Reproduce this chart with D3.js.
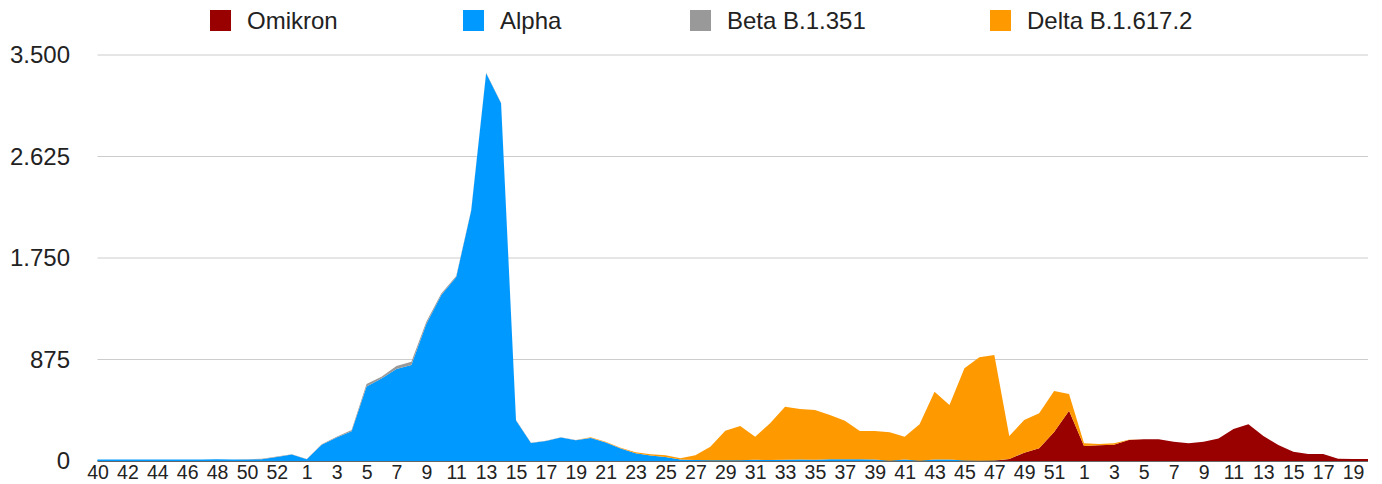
<!DOCTYPE html>
<html>
<head>
<meta charset="utf-8">
<script src="https://cdn.jsdelivr.net/npm/d3@7"></script>
<style>
  body { margin: 0; background: #fff; }
  .chart text { font-family: "Liberation Sans", Arial, sans-serif; fill: #222; }
</style>
</head>
<body>
<div class="chart"></div>
<script>
// calendar weeks: 2020 wk40-53, 2021 wk1-52, 2022 wk1-20
const weeks = [
  40, 41, 42, 43, 44, 45, 46, 47, 48, 49, 50, 51, 52, 53,
  1, 2, 3, 4, 5, 6, 7, 8, 9, 10, 11, 12, 13, 14, 15, 16, 17, 18, 19, 20,
  21, 22, 23, 24, 25, 26, 27, 28, 29, 30, 31, 32, 33, 34, 35, 36, 37, 38, 39, 40,
  41, 42, 43, 44, 45, 46, 47, 48, 49, 50, 51, 52,
  1, 2, 3, 4, 5, 6, 7, 8, 9, 10, 11, 12, 13, 14, 15, 16, 17, 18, 19, 20
];

const omikron = [
  0, 0, 0, 0, 0, 0, 0, 0, 0, 0, 0, 0, 0, 0,
  0, 0, 0, 0, 0, 0, 0, 0, 0, 0, 0, 0, 0, 0, 0, 0, 0, 0, 0, 0,
  0, 0, 0, 0, 0, 0, 0, 0, 0, 0, 0, 0, 0, 0, 0, 0, 0, 0, 0, 0,
  0, 0, 0, 0, 0, 0, 3, 17, 72, 109, 250, 434,
  129, 135, 141, 181, 187, 187, 167, 152, 167, 195, 276, 316, 216, 138, 80, 60, 60, 20, 17, 17
];

const alpha = [
  14, 14, 14, 12, 14, 12, 14, 14, 16, 14, 14, 16, 35, 55,
  15, 140, 203, 257, 642, 712, 793, 828, 1180, 1432, 1587, 2158, 3343, 3085, 350, 156, 173, 202, 179, 199,
  160, 108, 66, 47, 35, 12, 8, 6, 6, 6, 10, 8, 10, 14, 10, 15, 16, 16, 14, 3,
  14, 3, 12, 14, 4, 2, 2, 1, 0, 0, 0, 0,
  0, 0, 0, 0, 0, 0, 0, 0, 0, 0, 0, 0, 0, 0, 0, 0, 0, 0, 0, 0
];

const beta = [
  0, 0, 0, 0, 0, 0, 0, 0, 0, 0, 2, 3, 3, 3,
  2, 5, 7, 10, 22, 15, 26, 28, 21, 13, 8, 6, 5, 4, 3, 2, 2, 2, 2, 2,
  1, 1, 1, 1, 0, 0, 0, 0, 0, 0, 0, 0, 0, 0, 0, 0, 0, 0, 0, 0,
  0, 0, 0, 0, 0, 0, 0, 0, 0, 0, 0, 0,
  0, 0, 0, 0, 0, 0, 0, 0, 0, 0, 0, 0, 0, 0, 0, 0, 0, 0, 0, 0
];

const delta = [
  0, 0, 0, 0, 0, 0, 0, 0, 0, 0, 0, 0, 0, 0,
  0, 0, 0, 0, 0, 0, 0, 0, 0, 0, 0, 0, 0, 0, 0, 0, 0, 0, 0, 3,
  5, 6, 8, 10, 14, 11, 41, 117, 255, 296, 200, 317, 458, 434, 430, 382, 331, 243, 245, 244,
  196, 313, 586, 469, 795, 892, 909, 198, 281, 302, 353, 144,
  23, 12, 11, 3, 1, 0, 0, 0, 0, 0, 0, 0, 0, 0, 0, 0, 0, 0, 0, 0
];

const seriesNames = ["Omikron", "Alpha", "Beta B.1.351", "Delta B.1.617.2"];
const seriesColors = ["#990000", "#0099ff", "#999999", "#ff9900"];
const yTicks = [0, 875, 1750, 2625, 3500];

const w = 1382;
const h = 484;
const plotLeft = 97.5, plotRight = 1368, plotTop = 55, plotBottom = 461;

const svg = d3.select(".chart")
              .append("svg")
              .attr("width", w)
              .attr("height", h);

const rows = weeks.map((wk, i) => ({
  i: i,
  week: wk,
  "Omikron": omikron[i],
  "Alpha": alpha[i],
  "Beta B.1.351": beta[i],
  "Delta B.1.617.2": delta[i]
}));

const xScale = d3.scaleLinear()
                 .domain([0, weeks.length - 1])
                 .range([plotLeft, plotRight]);

const yScale = d3.scaleLinear()
                 .domain([0, 3500])
                 .range([plotBottom, plotTop]);

const de = d3.formatLocale({ decimal: ",", thousands: ".", grouping: [3], currency: ["", " €"] });
const fmt = de.format(",d");

// gridlines
svg.append("g")
   .selectAll("line")
   .data(yTicks.filter(d => d > 0))
   .enter()
   .append("line")
   .attr("x1", plotLeft)
   .attr("x2", plotRight)
   .attr("y1", d => yScale(d))
   .attr("y2", d => yScale(d))
   .attr("stroke", "#cccccc")
   .attr("stroke-width", 1);

// y labels
const yAxis = d3.axisLeft(yScale).tickValues(yTicks).tickFormat(fmt).tickSize(0).tickPadding(0);
const gy = svg.append("g")
   .attr("transform", "translate(70,0)")
   .call(yAxis);
gy.select(".domain").remove();
gy.selectAll("text").style("font-size", "24px").attr("fill", "#222");

// baseline
svg.append("line")
   .attr("x1", plotLeft)
   .attr("x2", plotRight)
   .attr("y1", plotBottom)
   .attr("y2", plotBottom)
   .attr("stroke", "#333")
   .attr("stroke-width", 1.5);

// stacked areas
const stack = d3.stack().keys(seriesNames);
const layers = stack(rows);

const area = d3.area()
               .x(d => xScale(d.data.i))
               .y0(d => yScale(d[0]))
               .y1(d => yScale(d[1]));

svg.append("g")
   .selectAll("path")
   .data(layers)
   .enter()
   .append("path")
   .attr("d", area)
   .attr("fill", (d, i) => seriesColors[i]);

// x labels (every second week)
const xAxis = d3.axisBottom(xScale)
                .tickValues(d3.range(0, weeks.length, 2))
                .tickFormat(i => weeks[i])
                .tickSize(0)
                .tickPadding(4);
const gx = svg.append("g")
   .attr("transform", "translate(0," + plotBottom + ")")
   .call(xAxis);
gx.select(".domain").remove();
gx.selectAll("text").style("font-size", "19.5px").attr("fill", "#222");

// legend
const legendX = [210, 463, 690, 990];
const legend = svg.append("g")
   .selectAll("g")
   .data(seriesNames)
   .enter()
   .append("g")
   .attr("transform", (d, i) => "translate(" + legendX[i] + ",10)");

legend.append("rect")
      .attr("width", 21)
      .attr("height", 21)
      .attr("fill", (d, i) => seriesColors[i]);

legend.append("text")
      .attr("x", 37)
      .attr("y", 19)
      .style("font-size", "24px")
      .text(d => d);
</script>
</body>
</html>
